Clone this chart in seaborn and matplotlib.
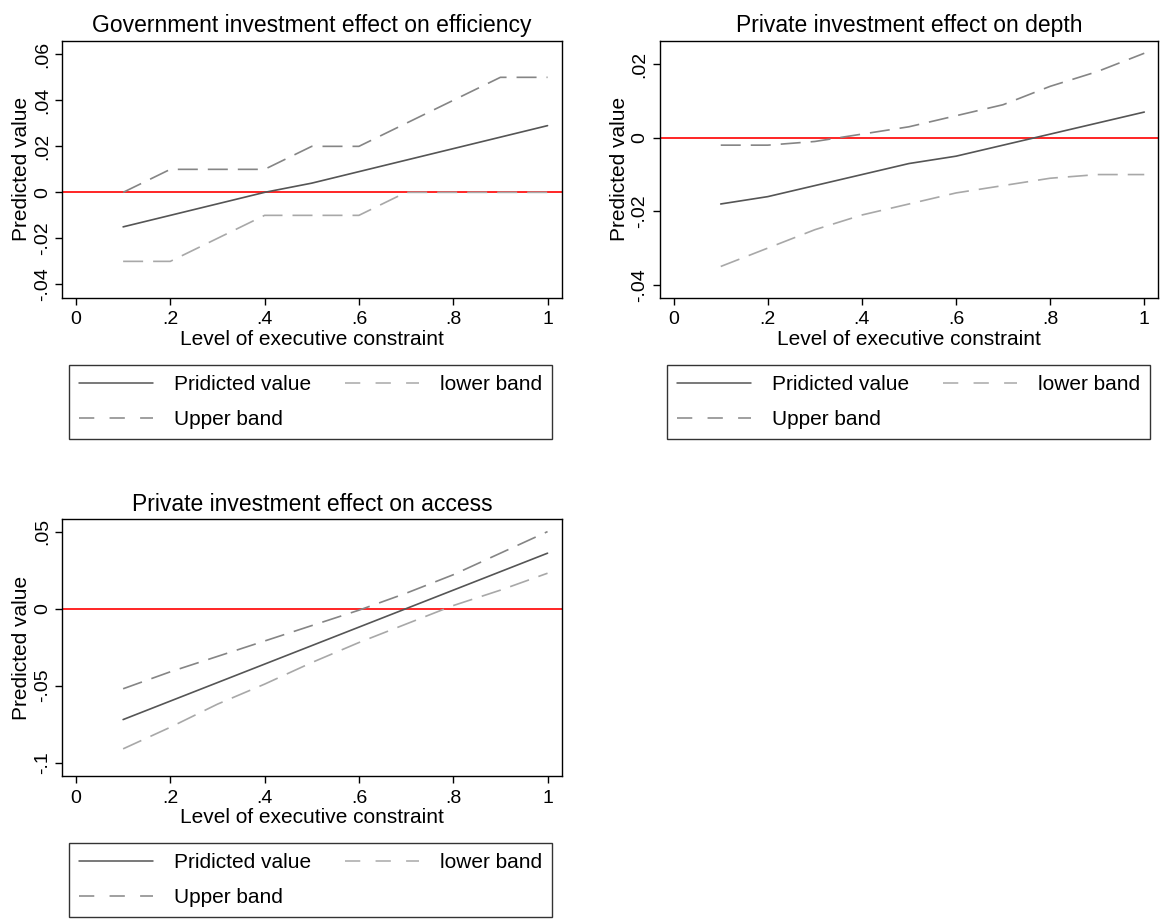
import matplotlib
matplotlib.use("Agg")
import matplotlib.pyplot as plt
from matplotlib.lines import Line2D
import seaborn as sns
import pandas as pd

sns.set_style("white")
plt.rcParams["font.family"] = ["Liberation Sans", "DejaVu Sans"]
plt.rcParams["text.color"] = "black"
plt.rcParams["axes.labelcolor"] = "black"
plt.rcParams["xtick.color"] = "black"
plt.rcParams["ytick.color"] = "black"

# data
level = [0.1, 0.2, 0.3, 0.4, 0.5, 0.6, 0.7, 0.8, 0.9, 1.0]

eff_pred = [-0.015, -0.010, -0.005, 0.000, 0.004, 0.009, 0.014, 0.019, 0.024, 0.029]
eff_upper = [0.00, 0.01, 0.01, 0.01, 0.02, 0.02, 0.03, 0.04, 0.05, 0.05]
eff_lower = [-0.03, -0.03, -0.02, -0.01, -0.01, -0.01, 0.00, 0.00, 0.00, 0.00]

dep_pred = [-0.018, -0.016, -0.013, -0.010, -0.007, -0.005, -0.002, 0.001, 0.004, 0.007]
dep_upper = [-0.002, -0.002, -0.001, 0.001, 0.003, 0.006, 0.009, 0.014, 0.018, 0.023]
dep_lower = [-0.035, -0.030, -0.025, -0.021, -0.018, -0.015, -0.013, -0.011, -0.010, -0.010]

acc_pred = [-0.072, -0.060, -0.048, -0.036, -0.024, -0.012, 0.000, 0.012, 0.024, 0.036]
acc_upper = [-0.052, -0.041, -0.031, -0.021, -0.011, -0.001, 0.010, 0.022, 0.036, 0.050]
acc_lower = [-0.091, -0.077, -0.062, -0.049, -0.035, -0.022, -0.010, 0.002, 0.012, 0.023]

titles = ["Government investment effect on efficiency",
          "Private investment effect on depth",
          "Private investment effect on access"]
xticks = [0, 0.2, 0.4, 0.6, 0.8, 1.0]
xticklabels = ["0", ".2", ".4", ".6", ".8", "1"]
yticks_eff = [-0.04, -0.02, 0, 0.02, 0.04, 0.06]
yticklabels_eff = ["-.04", "-.02", "0", ".02", ".04", ".06"]
yticks_dep = [-0.04, -0.02, 0, 0.02]
yticklabels_dep = ["-.04", "-.02", "0", ".02"]
yticks_acc = [-0.1, -0.05, 0, 0.05]
yticklabels_acc = ["-.1", "-.05", "0", ".05"]

C_PRED = "#555555"
C_UP = "#858585"
C_LOW = "#a8a8a8"
FS = 15
LW = 1.2
DASH = (0, (12, 6))

fig = plt.figure(figsize=(11.6, 9.22), dpi=100)

panels = [
    # axes rect, legend rect, data, ticks, ylim
    ([0.0537, 0.6771, 0.4305, 0.2787], [0.0595, 0.5235, 0.4161, 0.0806],
     (eff_pred, eff_upper, eff_lower), (yticks_eff, yticklabels_eff), (-0.0458, 0.0659)),
    ([0.5690, 0.6771, 0.4296, 0.2787], [0.5750, 0.5235, 0.4161, 0.0806],
     (dep_pred, dep_upper, dep_lower), (yticks_dep, yticklabels_dep), (-0.0435, 0.0264)),
    ([0.0537, 0.1584, 0.4305, 0.2787], [0.0595, 0.0054, 0.4161, 0.0800],
     (acc_pred, acc_upper, acc_lower), (yticks_acc, yticklabels_acc), (-0.1086, 0.0582)),
]

for i, (rect, lrect, series, yt, ylim) in enumerate(panels):
    ax = fig.add_axes(rect)
    pred, up, low = series
    df = pd.DataFrame({"level": level, "pred": pred, "up": up, "low": low})

    ax.axhline(0, color="red", lw=LW, zorder=1)
    sns.lineplot(data=df, x="level", y="pred", ax=ax, color=C_PRED, lw=LW, zorder=3)
    sns.lineplot(data=df, x="level", y="up", ax=ax, color=C_UP, lw=LW,
                 linestyle=DASH, zorder=2)
    sns.lineplot(data=df, x="level", y="low", ax=ax, color=C_LOW, lw=LW,
                 linestyle=DASH, zorder=2)

    ax.set_xlim(-0.029, 1.03)
    ax.set_ylim(*ylim)
    ax.set_xticks(xticks)
    ax.set_xticklabels(xticklabels)
    ax.set_yticks(yt[0])
    ax.set_yticklabels(yt[1], rotation=90, va="center")
    ax.tick_params(axis="both", direction="out", length=5.3, width=1,
                   labelsize=14, bottom=True, left=True)
    ax.tick_params(axis="x", pad=4.5)
    ax.tick_params(axis="y", pad=3)
    ax.set_xlabel("Level of executive constraint", fontsize=FS, labelpad=1)
    ax.set_ylabel("Predicted value", fontsize=FS, labelpad=2)
    ax.set_title(titles[i], fontsize=16.5, pad=6)
    for s in ax.spines.values():
        s.set_color("black")
        s.set_linewidth(1)

    handles = [
        Line2D([], [], color=C_PRED, lw=1.1),
        Line2D([], [], color=C_UP, lw=1.1, linestyle=(0, (10, 10))),
        Line2D([], [], color=C_LOW, lw=1.1, linestyle=(0, (10, 10))),
    ]
    labels = ["Pridicted value", "Upper band", "lower band"]
    leg = fig.legend(handles, labels, loc="upper left", bbox_to_anchor=lrect,
                     bbox_transform=fig.transFigure, mode="expand", ncol=2,
                     fontsize=FS, handlelength=3.56, handletextpad=1.0,
                     labelspacing=0.77, borderpad=0.48, borderaxespad=0,
                     fancybox=False, framealpha=1)
    leg.get_frame().set_edgecolor("#333333")
    leg.get_frame().set_linewidth(1)

fig.savefig("out.png", dpi=100)
